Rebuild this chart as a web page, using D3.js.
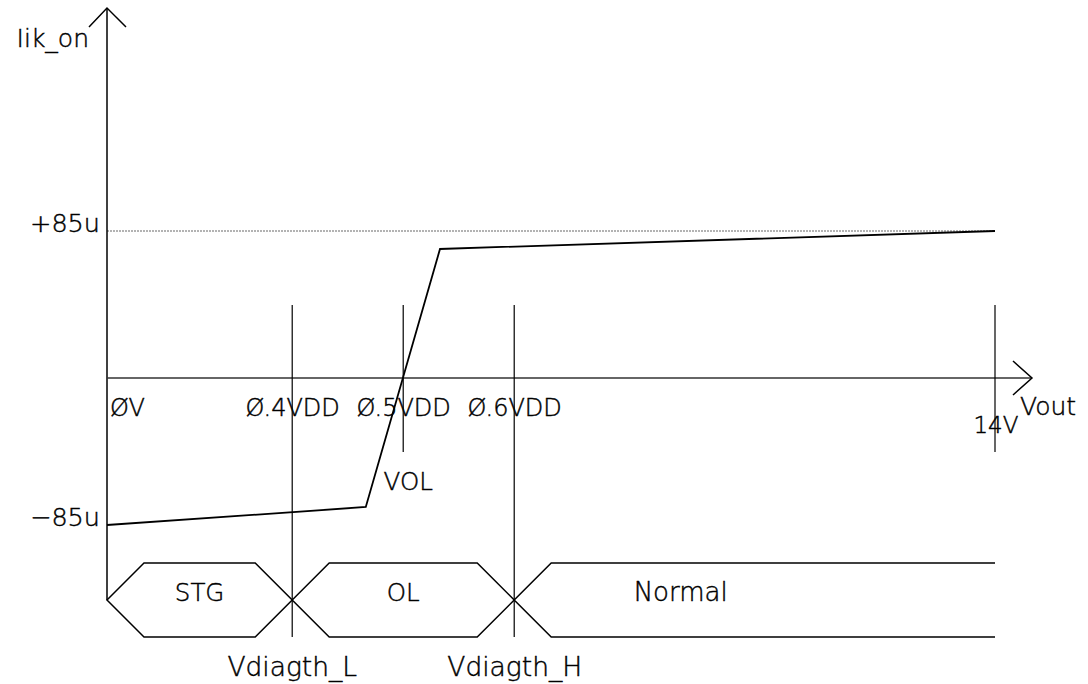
<!DOCTYPE html>
<html>
<head>
<meta charset="utf-8">
<script src="https://cdn.jsdelivr.net/npm/d3@7/dist/d3.min.js"></script>
<style>
  html, body { margin: 0; padding: 0; background: #fff; }
  svg text { font-family: "DejaVu Sans", sans-serif; font-weight: 200; fill: #000; stroke: #000; stroke-width: 0.45px; }
</style>
</head>
<body>
<svg id="chart" width="1088" height="684"></svg>
<script>
// ---- data ----
const xTickValues = [0, 2.92, 4.67, 6.42, 14];          // Vout (V, schematic)
const xTickLabels = ["ØV", "Ø.4VDD", "Ø.5VDD", "Ø.6VDD", "14V"];
const yTickValues = [85, -85];                            // Iik_on (uA)
const yTickLabels = ["+85u", "−85u"];
const curveVout = [0, 4.08, 5.25, 14];
const curveIik  = [-85, -74.6, 74.6, 85];
const markerValues = [2.92, 4.67, 6.42, 14];              // vertical guide lines
const thresholdValues = [2.92, 6.42];
const thresholdLabels = ["Vdiagth_L", "Vdiagth_H"];
const regionNames = ["STG", "OL", "Normal"];
const regionBounds = [0, 2.92, 6.42, 14];
const volValue = 4.67;
const volLabel = "VOL";
const xTitle = "Vout";
const yTitle = "Iik_on";

// ---- scales ----
const x = d3.scaleLinear().domain([0, 14]).range([107, 995]);
const y = d3.scaleLinear().domain([-85, 85]).range([525, 231]);

const svg = d3.select("#chart");
const ink = "#000";

// reference +85u dotted line
svg.append("line")
  .attr("x1", x(0)).attr("x2", x(14))
  .attr("y1", y(85)).attr("y2", y(85))
  .attr("stroke", "#9a9a9a").attr("stroke-width", 1.5)
  .attr("stroke-dasharray", "2,1");

// y axis with arrow
const yAxisTop = 8, yAxisBottom = 600;
svg.append("line")
  .attr("x1", x(0)).attr("x2", x(0))
  .attr("y1", yAxisTop).attr("y2", yAxisBottom)
  .attr("stroke", ink).attr("stroke-width", 1.5);
svg.append("path")
  .attr("d", `M${x(0) - 18},${yAxisTop + 19} L${x(0)},${yAxisTop} L${x(0) + 19},${yAxisTop + 19}`)
  .attr("fill", "none").attr("stroke", ink).attr("stroke-width", 1.5);

// x axis with arrow
const xAxisEnd = 1032;
svg.append("line")
  .attr("x1", x(0)).attr("x2", xAxisEnd)
  .attr("y1", y(0)).attr("y2", y(0))
  .attr("stroke", "#333").attr("stroke-width", 1.5);
svg.append("path")
  .attr("d", `M${xAxisEnd - 19},${y(0) - 17} L${xAxisEnd},${y(0)} L${xAxisEnd - 19},${y(0) + 17}`)
  .attr("fill", "none").attr("stroke", ink).attr("stroke-width", 1.5);

// vertical guide lines
markerValues.forEach(v => {
  const isThreshold = thresholdValues.includes(v);
  svg.append("line")
    .attr("x1", x(v)).attr("x2", x(v))
    .attr("y1", 305).attr("y2", isThreshold ? 637 : 452)
    .attr("stroke", ink).attr("stroke-width", 1.2);
});

// curve
const line = d3.line().x(d => x(d[0])).y(d => y(d[1]));
svg.append("path")
  .datum(curveVout.map((v, i) => [v, curveIik[i]]))
  .attr("d", line)
  .attr("fill", "none").attr("stroke", ink).attr("stroke-width", 1.8);

// titles
svg.append("text").attr("x", 89).attr("y", 47).attr("text-anchor", "end")
  .attr("font-size", 25).text(yTitle);
svg.append("text").attr("x", 1020).attr("y", 415).attr("text-anchor", "start")
  .attr("font-size", 25).text(xTitle);

// y tick labels
yTickValues.forEach((v, i) => {
  svg.append("text").attr("x", 100).attr("y", y(v) + 1).attr("text-anchor", "end")
    .attr("font-size", 25.5).text(yTickLabels[i]);
});

// x tick labels
xTickValues.forEach((v, i) => {
  const t = svg.append("text").text(xTickLabels[i]);
  if (i === 0) {
    t.attr("x", x(v) + 3).attr("y", 416).attr("text-anchor", "start").attr("font-size", 24);
  } else if (i === xTickValues.length - 1) {
    t.attr("x", x(v) + 1).attr("y", 433).attr("text-anchor", "middle").attr("font-size", 23);
  } else {
    t.attr("x", x(v) + 0.5).attr("y", 416).attr("text-anchor", "middle").attr("font-size", 24);
  }
});

// VOL label
svg.append("text").attr("x", x(volValue) + 5).attr("y", 490).attr("text-anchor", "middle")
  .attr("font-size", 24.5).text(volLabel);

// region bands (hexagons)
const bandTop = 563, bandMid = 600, bandBot = 637, slant = bandMid - bandTop;
regionNames.forEach((name, i) => {
  const lo = x(regionBounds[i]);
  const hi = x(regionBounds[i + 1]);
  const last = i === regionNames.length - 1;
  let d;
  if (!last) {
    d = `M${lo},${bandMid} L${lo + slant},${bandTop} L${hi - slant},${bandTop} L${hi},${bandMid} L${hi - slant},${bandBot} L${lo + slant},${bandBot} Z`;
  } else {
    d = `M${hi},${bandTop} L${lo + slant},${bandTop} L${lo},${bandMid} L${lo + slant},${bandBot} L${hi},${bandBot}`;
  }
  svg.append("path").attr("d", d)
    .attr("fill", "none").attr("stroke", ink).attr("stroke-width", 1.5);
  const cx = lo + Math.min(hi - lo, 333) / 2;
  svg.append("text").attr("x", cx).attr("y", 601).attr("text-anchor", "middle")
    .attr("font-size", last ? 26 : 24.5).text(name);
});

// threshold labels
thresholdValues.forEach((v, i) => {
  svg.append("text").attr("x", v === thresholdValues[0] ? x(v) : x(v) + 0.5).attr("y", 676).attr("text-anchor", "middle")
    .attr("font-size", 26.5).text(thresholdLabels[i]);
});
</script>
</body>
</html>
